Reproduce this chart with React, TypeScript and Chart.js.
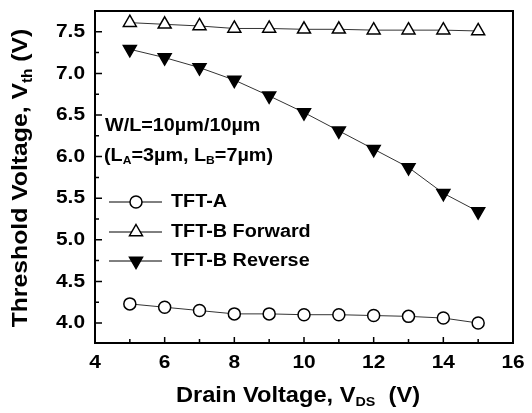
import React, { useEffect, useRef } from 'react';
import { Chart, registerables } from 'chart.js';

Chart.register(...registerables);

const vds = [5, 6, 7, 8, 9, 10, 11, 12, 13, 14, 15];
const tftA = [4.23, 4.19, 4.15, 4.11, 4.11, 4.10, 4.10, 4.09, 4.08, 4.06, 4.00];
const tftBForward = [7.61, 7.59, 7.57, 7.54, 7.54, 7.53, 7.53, 7.52, 7.52, 7.52, 7.51];
const tftBReverse = [7.29, 7.19, 7.07, 6.92, 6.73, 6.53, 6.31, 6.09, 5.87, 5.56, 5.34];
const xMajorTicks = [4, 6, 8, 10, 12, 14, 16];
const xMinorTicks = [5, 7, 9, 11, 13, 15];
const yMajorTicks = [4.0, 4.5, 5.0, 5.5, 6.0, 6.5, 7.0, 7.5];
const yMinorTicks = [4.25, 4.75, 5.25, 5.75, 6.25, 6.75, 7.25];
const legendLabels = ['TFT-A', 'TFT-B Forward', 'TFT-B Reverse'];

const FONT = '"Liberation Sans", Arial, Helvetica, sans-serif';
const SX = 1.1;

type Part = { t: string; sub?: boolean };

function richWidth(ctx: CanvasRenderingContext2D, parts: Part[], size: number) {
  let w = 0;
  for (const p of parts) {
    ctx.font = `bold ${p.sub ? Math.round(size * 0.6) : size}px ${FONT}`;
    w += ctx.measureText(p.t).width;
  }
  return w;
}

function drawRich(
  ctx: CanvasRenderingContext2D,
  parts: Part[],
  x: number,
  y: number,
  size: number,
  align: 'left' | 'center' | 'right',
  rotate = false
) {
  ctx.save();
  ctx.translate(x, y);
  if (rotate) ctx.rotate(-Math.PI / 2);
  ctx.scale(SX, 1);
  const w = richWidth(ctx, parts, size);
  let cx = align === 'left' ? 0 : align === 'center' ? -w / 2 : -w;
  ctx.fillStyle = '#000';
  ctx.textBaseline = 'middle';
  ctx.textAlign = 'left';
  for (const p of parts) {
    const s = p.sub ? Math.round(size * 0.6) : size;
    ctx.font = `bold ${s}px ${FONT}`;
    ctx.fillText(p.t, cx, p.sub ? size * 0.3 : 0);
    cx += ctx.measureText(p.t).width;
  }
  ctx.restore();
}

function drawMarker(ctx: CanvasRenderingContext2D, kind: string, x: number, y: number) {
  ctx.save();
  ctx.lineWidth = 1.5;
  ctx.strokeStyle = '#000';
  ctx.beginPath();
  if (kind === 'circle') {
    ctx.arc(x, y, 6, 0, Math.PI * 2);
    ctx.fillStyle = '#fff';
  } else if (kind === 'up') {
    const r = 7.5;
    ctx.moveTo(x, y - r);
    ctx.lineTo(x + r * 0.866, y + r * 0.5);
    ctx.lineTo(x - r * 0.866, y + r * 0.5);
    ctx.closePath();
    ctx.fillStyle = '#fff';
  } else {
    const r = 7.5;
    ctx.moveTo(x, y + r);
    ctx.lineTo(x + r * 0.866, y - r * 0.5);
    ctx.lineTo(x - r * 0.866, y - r * 0.5);
    ctx.closePath();
    ctx.fillStyle = '#000';
  }
  ctx.fill();
  ctx.stroke();
  ctx.restore();
}

const decorPlugin = {
  id: 'decor',
  afterDraw(chart: any) {
    const ctx: CanvasRenderingContext2D = chart.ctx;
    const { left, right, top, bottom } = chart.chartArea;
    const xs = chart.scales.x;
    const ys = chart.scales.y;
    ctx.save();
    // frame
    ctx.strokeStyle = '#000';
    ctx.lineWidth = 2;
    ctx.strokeRect(left, top, right - left, bottom - top);
    // ticks
    ctx.lineWidth = 1.5;
    ctx.beginPath();
    for (const v of xMajorTicks) {
      const px = xs.getPixelForValue(v);
      ctx.moveTo(px, bottom);
      ctx.lineTo(px, bottom - 6);
    }
    for (const v of xMinorTicks) {
      const px = xs.getPixelForValue(v);
      ctx.moveTo(px, bottom);
      ctx.lineTo(px, bottom - 4);
    }
    for (const v of yMajorTicks) {
      const py = ys.getPixelForValue(v);
      ctx.moveTo(left, py);
      ctx.lineTo(left + 7, py);
    }
    for (const v of yMinorTicks) {
      const py = ys.getPixelForValue(v);
      ctx.moveTo(left, py);
      ctx.lineTo(left + 4, py);
    }
    ctx.stroke();
    // tick labels
    for (const v of xMajorTicks) {
      drawRich(ctx, [{ t: String(v) }], xs.getPixelForValue(v), 363, 19, 'center');
    }
    for (const v of yMajorTicks) {
      drawRich(ctx, [{ t: v.toFixed(1) }], left - 10, ys.getPixelForValue(v), 19, 'right');
    }
    // axis titles
    drawRich(
      ctx,
      [{ t: 'Drain Voltage, V' }, { t: 'DS', sub: true }, { t: '  (V)' }],
      298,
      396,
      21.5,
      'center'
    );
    drawRich(
      ctx,
      [{ t: 'Threshold Voltage, V' }, { t: 'th', sub: true }, { t: ' (V)' }],
      21,
      178,
      22.5,
      'center',
      true
    );
    // annotation
    drawRich(ctx, [{ t: 'W/L=10\u00b5m/10\u00b5m' }], 105, 126, 18, 'left');
    drawRich(
      ctx,
      [
        { t: '(L' },
        { t: 'A', sub: true },
        { t: '=3\u00b5m, L' },
        { t: 'B', sub: true },
        { t: '=7\u00b5m)' },
      ],
      104,
      156,
      18,
      'left'
    );
    // legend
    const kinds = ['circle', 'up', 'down'];
    const rows = [202, 232, 261];
    for (let i = 0; i < 3; i++) {
      const y = rows[i];
      ctx.strokeStyle = '#000';
      ctx.lineWidth = 1;
      ctx.beginPath();
      ctx.moveTo(109, y);
      ctx.lineTo(162, y);
      ctx.stroke();
      drawMarker(ctx, kinds[i], 136, y);
      drawRich(ctx, [{ t: legendLabels[i] }], 171, y, 18, 'left');
    }
    ctx.restore();
  },
};

export default function App() {
  const ref = useRef<HTMLCanvasElement>(null);
  useEffect(() => {
    if (!ref.current) return;
    const mk = (vals: number[]) => vds.map((x, i) => ({ x, y: vals[i] }));
    const chart = new Chart(ref.current, {
      type: 'line',
      data: {
        datasets: [
          {
            label: legendLabels[0],
            data: mk(tftA),
            borderColor: '#333',
            borderWidth: 1,
            pointStyle: 'circle',
            pointRadius: 6,
            pointBorderWidth: 1.5,
            pointBackgroundColor: '#fff',
            pointBorderColor: '#000',
          },
          {
            label: legendLabels[1],
            data: mk(tftBForward),
            borderColor: '#333',
            borderWidth: 1,
            pointStyle: 'triangle',
            pointRadius: 7.5,
            pointBorderWidth: 1.5,
            pointBackgroundColor: '#fff',
            pointBorderColor: '#000',
          },
          {
            label: legendLabels[2],
            data: mk(tftBReverse),
            borderColor: '#333',
            borderWidth: 1,
            pointStyle: 'triangle',
            pointRotation: 180,
            pointRadius: 7.5,
            pointBorderWidth: 1.5,
            pointBackgroundColor: '#000',
            pointBorderColor: '#000',
          },
        ],
      },
      options: {
        animation: false,
        responsive: false,
        devicePixelRatio: 1,
        layout: { padding: { top: 11, right: 19, left: 0, bottom: 0 } },
        plugins: { legend: { display: false }, tooltip: { enabled: false } },
        scales: {
          x: {
            type: 'linear',
            min: 4,
            max: 16,
            grid: { display: false },
            border: { display: false },
            ticks: { display: false },
            afterFit: (s: any) => {
              s.height = 70;
            },
          },
          y: {
            type: 'linear',
            min: 3.76,
            max: 7.75,
            grid: { display: false },
            border: { display: false },
            ticks: { display: false },
            afterFit: (s: any) => {
              s.width = 95;
            },
          },
        },
      },
      plugins: [decorPlugin],
    } as any);
    return () => chart.destroy();
  }, []);
  return (
    <div style={{ position: 'fixed', left: 0, top: 0, width: 532, height: 413, background: '#fff' }}>
      <canvas ref={ref} width={532} height={413} style={{ width: 532, height: 413 }} />
    </div>
  );
}
